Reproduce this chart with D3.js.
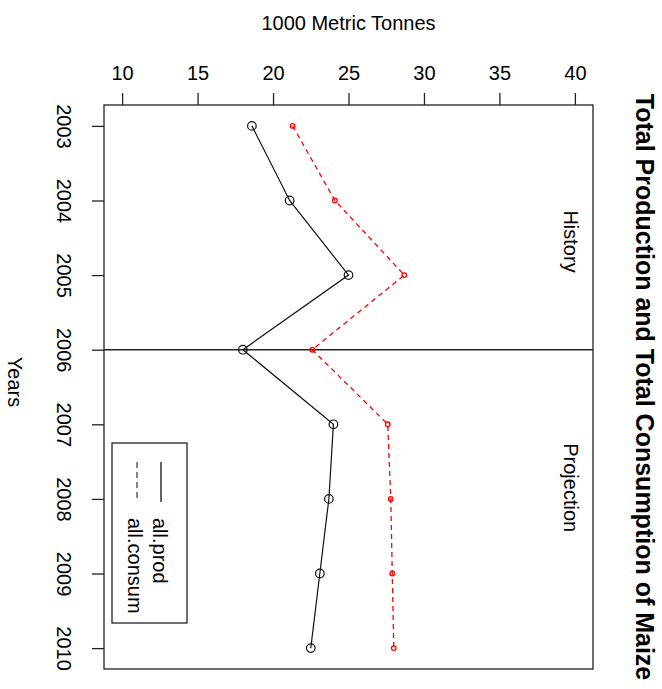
<!DOCTYPE html>
<html>
<head>
<meta charset="utf-8">
<script src="https://cdn.jsdelivr.net/npm/d3@7"></script>
<style>
  html, body { margin: 0; padding: 0; background: #fff; }
  svg { display: block; }
  text { font-family: "Liberation Sans", Arial, sans-serif; fill: #000; }
</style>
</head>
<body>
<svg id="chart" width="662" height="689"></svg>
<script>
// ---- data ----
const years = [2003, 2004, 2005, 2006, 2007, 2008, 2009, 2010];
const prod = [18.6, 21.1, 25.0, 18.0, 24.0, 23.7, 23.1, 22.5];
const consum = [21.3, 24.1, 28.7, 22.6, 27.6, 27.8, 27.9, 28.0];
const valueTicks = [10, 15, 20, 25, 30, 35, 40];
const yearTicks = [2003, 2004, 2005, 2006, 2007, 2008, 2009, 2010];
const seriesNames = ["all.prod", "all.consum"];
const splitYear = 2006;
const periodLabels = ["History", "Projection"];
const periodAt = [2004.55, 2007.85];
const titleText = "Total Production and Total Consumption of Maize";
const valueLabel = "1000 Metric Tonnes";
const yearLabel = "Years";

// ---- layout ----
const box = { left: 104, right: 593, top: 105, bottom: 669 };
const svg = d3.select("#chart");

const yr = d3.scaleLinear().domain([2002.72, 2010.28]).range([box.top, box.bottom]);
const val = d3.scaleLinear().domain([8.8, 41.2]).range([box.left, box.right]);

const ink = "#222";

// value axis (top)
const topAxis = svg.append("g")
  .attr("transform", `translate(0,${box.top})`)
  .call(d3.axisTop(val).tickValues(valueTicks).tickSize(12).tickSizeOuter(0).tickFormat(d3.format("d")));
topAxis.select(".domain").remove();
topAxis.selectAll(".tick line").attr("stroke", ink).attr("stroke-width", 1.3);
topAxis.selectAll(".tick text")
  .attr("y", -25).attr("dy", 0)
  .style("font-size", "20px").style("font-family", "Liberation Sans, Arial, sans-serif").attr("fill", "#000");

// year axis (left), labels rotated
const leftAxis = svg.append("g")
  .attr("transform", `translate(${box.left},0)`)
  .call(d3.axisLeft(yr).tickValues(yearTicks).tickSize(12).tickSizeOuter(0).tickFormat(d3.format("d")));
leftAxis.select(".domain").remove();
leftAxis.selectAll(".tick line").attr("stroke", ink).attr("stroke-width", 1.3);
leftAxis.selectAll(".tick text")
  .attr("x", 0).attr("dy", 0).attr("y", 0)
  .attr("text-anchor", "middle")
  .attr("transform", `translate(${57 - box.left},0) rotate(90)`)
  .style("font-size", "20px").style("font-family", "Liberation Sans, Arial, sans-serif").attr("fill", "#000");

// split line
svg.append("line")
  .attr("x1", box.left).attr("x2", box.right)
  .attr("y1", yr(splitYear)).attr("y2", yr(splitYear))
  .attr("stroke", ink).attr("stroke-width", 1.5);

// lines
const lineGen = (arr) => d3.line().x((d, i) => val(arr[i])).y(d => yr(d));
svg.append("path").datum(years)
  .attr("d", lineGen(prod))
  .attr("fill", "none").attr("stroke", "#111").attr("stroke-width", 1.2);
svg.append("path").datum(years)
  .attr("d", lineGen(consum))
  .attr("fill", "none").attr("stroke", "#ff0000").attr("stroke-width", 1.3)
  .attr("stroke-dasharray", "5,4");

// points
svg.append("g").selectAll("circle").data(years).join("circle")
  .attr("cx", (d, i) => val(prod[i])).attr("cy", d => yr(d)).attr("r", 4.3)
  .attr("fill", "none").attr("stroke", "#111").attr("stroke-width", 1.2);
svg.append("g").selectAll("circle").data(years).join("circle")
  .attr("cx", (d, i) => val(consum[i])).attr("cy", d => yr(d)).attr("r", 2.3)
  .attr("fill", "none").attr("stroke", "#ff0000").attr("stroke-width", 1.3);

// plot box
svg.append("rect")
  .attr("x", box.left).attr("y", box.top)
  .attr("width", box.right - box.left).attr("height", box.bottom - box.top)
  .attr("fill", "none").attr("stroke", ink).attr("stroke-width", 1.3);

// period labels
periodLabels.forEach((t, i) => {
  svg.append("text")
    .attr("transform", `translate(${564},${yr(periodAt[i])}) rotate(90)`)
    .attr("text-anchor", "middle")
    .style("font-size", "20px")
    .text(t);
});

// axis titles
svg.append("text")
  .attr("x", val(25)).attr("y", 30)
  .attr("text-anchor", "middle")
  .style("font-size", "20px")
  .text(valueLabel);
svg.append("text")
  .attr("transform", `translate(${8},${(box.top + box.bottom) / 2 - 5}) rotate(90)`)
  .attr("text-anchor", "middle")
  .style("font-size", "20px")
  .text(yearLabel);

// main title
svg.append("text")
  .attr("transform", `translate(${636},${(box.top + box.bottom) / 2}) rotate(90)`)
  .attr("text-anchor", "middle")
  .style("font-size", "25px").style("font-weight", "bold")
  .text(titleText);

// legend
const lg = svg.append("g");
lg.append("rect")
  .attr("x", 112).attr("y", 443).attr("width", 75).attr("height", 180)
  .attr("fill", "#fff").attr("stroke", ink).attr("stroke-width", 1.3);
const legendRows = [
  { name: seriesNames[0], dash: null, lineX: 161, textX: 153 },
  { name: seriesNames[1], dash: "6,4", lineX: 137, textX: 128 }
];
legendRows.forEach(r => {
  lg.append("line")
    .attr("x1", r.lineX).attr("x2", r.lineX).attr("y1", 462).attr("y2", 502)
    .attr("stroke", r.dash ? "#444" : "#111").attr("stroke-width", 1.3)
    .attr("stroke-dasharray", r.dash);
  lg.append("text")
    .attr("transform", `translate(${r.textX},518) rotate(90)`)
    .attr("text-anchor", "start")
    .style("font-size", "20px")
    .text(r.name);
});
</script>
</body>
</html>
